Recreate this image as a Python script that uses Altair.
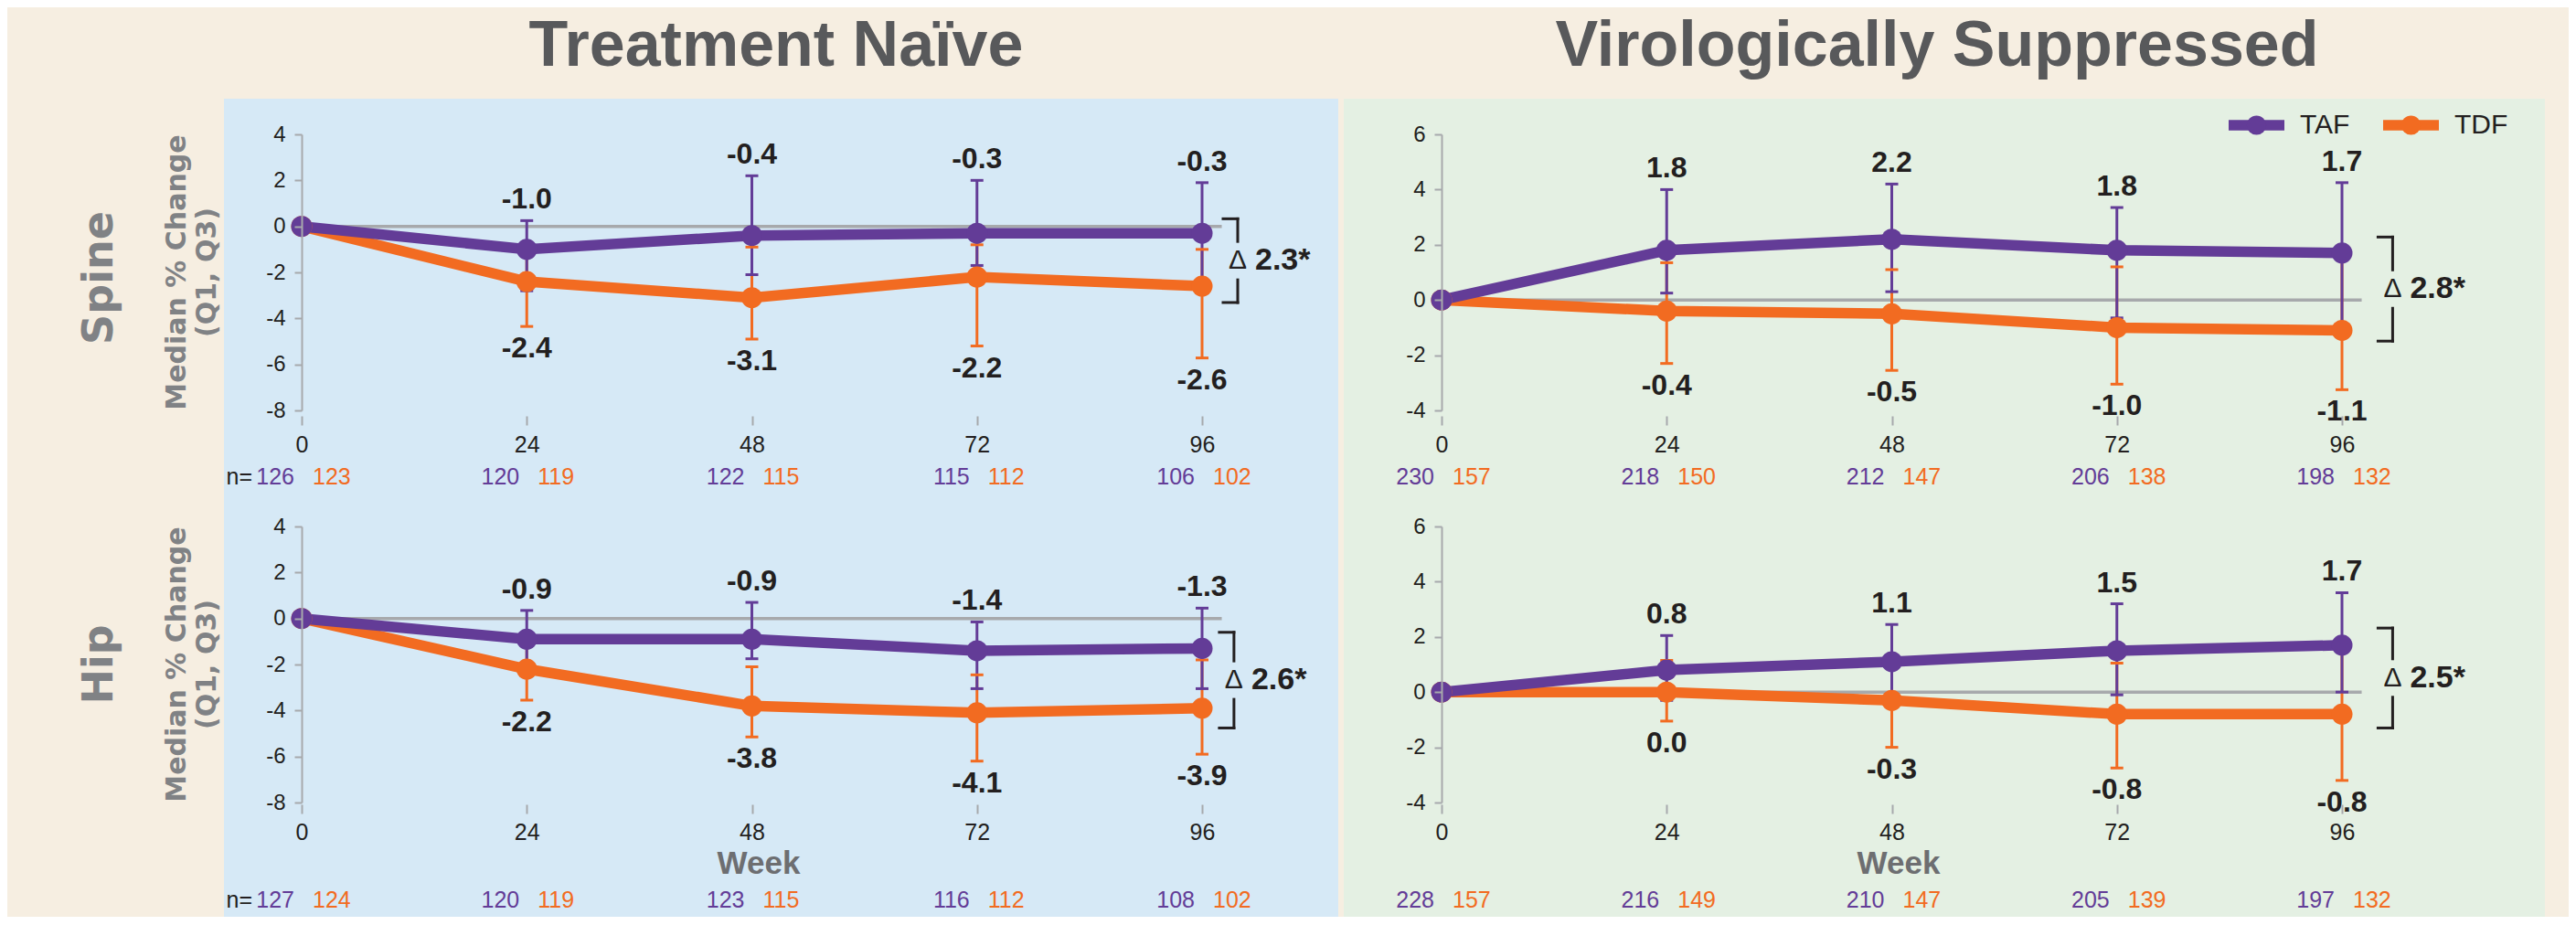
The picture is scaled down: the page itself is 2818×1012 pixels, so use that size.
import altair as alt
import pandas as pd

WEEKS = [0, 24, 48, 72, 96]

# ---- Spine, Treatment Naive ----
TN_SPINE_TAF_MED = [0.0, -1.0, -0.4, -0.3, -0.3]
TN_SPINE_TAF_Q1 = [0.0, -2.8, -2.1, -1.7, -2.7]
TN_SPINE_TAF_Q3 = [0.0, 0.25, 2.2, 2.0, 1.9]
TN_SPINE_TDF_MED = [0.0, -2.4, -3.1, -2.2, -2.6]
TN_SPINE_TDF_Q1 = [0.0, -4.35, -4.9, -5.2, -5.72]
TN_SPINE_TDF_Q3 = [0.0, -1.3, -0.9, -0.8, -1.0]
TN_SPINE_TAF_N = [126, 120, 122, 115, 106]
TN_SPINE_TDF_N = [123, 119, 115, 112, 102]
TN_SPINE_DELTA = "2.3*"
TN_SPINE_BRACKET = (99.8, 0.33, -3.31)

# ---- Spine, Virologically Suppressed ----
VS_SPINE_TAF_MED = [0.0, 1.8, 2.2, 1.8, 1.7]
VS_SPINE_TAF_Q1 = [0.0, 0.25, 0.3, -0.65, -1.2]
VS_SPINE_TAF_Q3 = [0.0, 4.0, 4.2, 3.35, 4.25]
VS_SPINE_TDF_MED = [0.0, -0.4, -0.5, -1.0, -1.1]
VS_SPINE_TDF_Q1 = [0.0, -2.3, -2.55, -3.05, -3.25]
VS_SPINE_TDF_Q3 = [0.0, 1.35, 1.1, 1.2, 1.6]
VS_SPINE_TAF_N = [230, 218, 212, 206, 198]
VS_SPINE_TDF_N = [157, 150, 147, 138, 132]
VS_SPINE_DELTA = "2.8*"
VS_SPINE_BRACKET = (101.4, 2.28, -1.49)

# ---- Hip, Treatment Naive ----
TN_HIP_TAF_MED = [0.0, -0.9, -0.9, -1.4, -1.3]
TN_HIP_TAF_Q1 = [0.0, -2.0, -1.75, -3.05, -3.05]
TN_HIP_TAF_Q3 = [0.0, 0.35, 0.7, -0.15, 0.45]
TN_HIP_TDF_MED = [0.0, -2.2, -3.8, -4.1, -3.9]
TN_HIP_TDF_Q1 = [0.0, -3.55, -5.15, -6.2, -5.9]
TN_HIP_TDF_Q3 = [0.0, -1.1, -2.1, -2.45, -1.8]
TN_HIP_TAF_N = [127, 120, 123, 116, 108]
TN_HIP_TDF_N = [124, 119, 115, 112, 102]
TN_HIP_DELTA = "2.6*"
TN_HIP_BRACKET = (99.4, -0.6, -4.76)

# ---- Hip, Virologically Suppressed ----
VS_HIP_TAF_MED = [0.0, 0.8, 1.1, 1.5, 1.7]
VS_HIP_TAF_Q1 = [0.0, -0.3, -0.1, -0.1, 0.0]
VS_HIP_TAF_Q3 = [0.0, 2.05, 2.45, 3.2, 3.6]
VS_HIP_TDF_MED = [0.0, 0.0, -0.3, -0.8, -0.8]
VS_HIP_TDF_Q1 = [0.0, -1.05, -2.0, -2.75, -3.2]
VS_HIP_TDF_Q3 = [0.0, 1.15, 1.0, 1.05, 1.6]
VS_HIP_TAF_N = [228, 216, 210, 205, 197]
VS_HIP_TDF_N = [157, 149, 147, 139, 132]
VS_HIP_DELTA = "2.5*"
VS_HIP_BRACKET = (101.4, 2.32, -1.30)

TN_YTICKS = [-8, -6, -4, -2, 0, 2, 4]
VS_YTICKS = [-4, -2, 0, 2, 4, 6]

ARMS = ["TAF", "TDF"]
Y_TITLE = ["Median % Change", "(Q1, Q3)"]

# ---- style ----
PURPLE = "#633C97"
ORANGE = "#F26B21"
BEIGE = "#F6EEE1"
BLUE = "#D6E9F6"
GREEN = "#E4F0E3"
GRAY = "#A7A9AC"
INK = "#231F20"
LABEL_GRAY = "#808285"
TITLE_GRAY = "#58595B"
WEEK_GRAY = "#6D6E71"
FONT = "Liberation Sans, Arial, Helvetica, sans-serif"
WIDE_FONT = "DejaVu Sans, Verdana, sans-serif"
W, H = 985, 302
LINE_W = 11.5
PT_SIZE = 530


def make_df(taf_med, taf_q1, taf_q3, tdf_med, tdf_q1, tdf_q3, taf_n, tdf_n):
    rows = []
    for arm, med, q1, q3, n, order in [
        ("TDF", tdf_med, tdf_q1, tdf_q3, tdf_n, 0),
        ("TAF", taf_med, taf_q1, taf_q3, taf_n, 1),
    ]:
        for w, m, a, b, k in zip(WEEKS, med, q1, q3, n):
            rows.append(dict(week=w, arm=arm, med=m, q1=a, q3=b, n=str(k),
                             order=order, label=f"{m:.1f}"))
    return pd.DataFrame(rows)


def panel(df, bracket, delta, ydom, yvals, fill, top, left,
          col_title=None, col_title_x=0, row_label=None, legend=False):
    ymin, ymax = ydom
    cs = alt.Scale(domain=ARMS, range=[PURPLE, ORANGE])
    xs = alt.Scale(domain=[0, 96], nice=False, zero=False)
    ys = alt.Scale(domain=[ymin, ymax], nice=False, zero=False)

    xk = dict(values=WEEKS, domain=False, grid=False, tickColor=GRAY, tickWidth=2,
              tickSize=10, offset=6 if top else 2, labelFont=FONT, labelFontSize=25,
              labelColor=INK, labelPadding=9 if top else 8, labelFlush=False,
              labelOverlap=False, zindex=1)
    if top:
        xk["title"] = None
    else:
        xk.update(title="Week", titleFont=FONT, titleFontSize=35, titleFontWeight="bold",
                  titleColor=WEEK_GRAY, titleY=47, titleX=W / 2 + 7,
                  titleBaseline="top", titleAlign="center")
    yk = dict(values=yvals, domainColor=GRAY, domainWidth=2, grid=False,
              tickColor=GRAY, tickWidth=2, tickSize=8, labelPadding=10,
              labelFont=FONT, labelFontSize=24, labelColor=INK,
              labelExpr="'' + datum.value", zindex=1, title=None)

    one = pd.DataFrame({"a": [0]})
    if left:
        ox0, ox1, ix0, ix1 = -322, 1137, -85, 1134
    else:
        ox0, ox1, ix0, ix1 = -110, 1233, -107, 1207
    if top:
        oy0, oy1, iy0, iy1 = -139, 413, -39, 413
        ny = 375
    else:
        oy0, oy1, iy0, iy1 = -16, 427, -16, 427
        ny = 409

    layers = []
    layers.append(alt.Chart(one).mark_rect(color=BEIGE).encode(
        x=alt.value(ox0), x2=alt.value(ox1), y=alt.value(oy0), y2=alt.value(oy1)))
    layers.append(alt.Chart(one).mark_rect(color=fill).encode(
        x=alt.value(ix0), x2=alt.value(ix1), y=alt.value(iy0), y2=alt.value(iy1)))

    # zero reference line
    zero = pd.DataFrame({"x": [0], "x2": [98.1], "y": [0]})
    layers.append(alt.Chart(zero).mark_rule(color=GRAY, strokeWidth=3.5).encode(
        x=alt.X("x:Q", scale=xs, axis=alt.Axis(**xk)), x2="x2:Q",
        y=alt.Y("y:Q", scale=ys, axis=alt.Axis(**yk))))

    bars = df[df.week > 0]
    col_nl = alt.Color("arm:N", scale=cs, legend=None)
    layers.append(alt.Chart(bars).mark_rule(strokeWidth=3).encode(
        x=alt.X("week:Q", scale=xs), y=alt.Y("q1:Q", scale=ys), y2="q3:Q", color=col_nl))
    for fld in ["q1", "q3"]:
        layers.append(alt.Chart(bars).mark_tick(orient="horizontal", size=14, thickness=3,
                                                opacity=1).encode(
            x=alt.X("week:Q", scale=xs), y=alt.Y(f"{fld}:Q", scale=ys), color=col_nl))

    layers.append(alt.Chart(df).mark_line(strokeWidth=LINE_W).encode(
        x=alt.X("week:Q", scale=xs), y=alt.Y("med:Q", scale=ys), color=col_nl,
        detail="arm:N"))
    layers.append(alt.Chart(df).mark_circle(size=PT_SIZE, opacity=1).encode(
        x=alt.X("week:Q", scale=xs), y=alt.Y("med:Q", scale=ys), color=col_nl,
        order=alt.Order("order:Q")))

    # value labels
    taf = df[(df.arm == "TAF") & (df.week > 0)]
    tdf = df[(df.arm == "TDF") & (df.week > 0)]
    layers.append(alt.Chart(taf).mark_text(font=FONT, fontSize=32, fontWeight="bold",
                                           color=INK, baseline="alphabetic", dy=-13).encode(
        x=alt.X("week:Q", scale=xs), y=alt.Y("q3:Q", scale=ys), text="label:N"))
    layers.append(alt.Chart(tdf).mark_text(font=FONT, fontSize=32, fontWeight="bold",
                                           color=INK, baseline="alphabetic", dy=34).encode(
        x=alt.X("week:Q", scale=xs), y=alt.Y("q1:Q", scale=ys), text="label:N"))

    # n at risk
    taf_all = df[df.arm == "TAF"]
    tdf_all = df[df.arm == "TDF"]
    layers.append(alt.Chart(taf_all).mark_text(font=FONT, fontSize=25, color=PURPLE,
                                               align="right", baseline="middle", dx=-8).encode(
        x=alt.X("week:Q", scale=xs), y=alt.value(ny), text="n:N"))
    layers.append(alt.Chart(tdf_all).mark_text(font=FONT, fontSize=25, color=ORANGE,
                                               align="left", baseline="middle", dx=12).encode(
        x=alt.X("week:Q", scale=xs), y=alt.value(ny), text="n:N"))
    if left:
        layers.append(alt.Chart(one).mark_text(font=FONT, fontSize=25, color=INK,
                                               align="right", baseline="middle",
                                               text="n=").encode(
            x=alt.value(-54), y=alt.value(ny)))

    # delta bracket
    bx, btop, bbot = bracket
    gap = 21 * (ymax - ymin) / H
    arm = 16 * 96 / W
    mid = (btop + bbot) / 2
    bdf = pd.DataFrame({"x": [bx], "xa": [bx - arm], "top": [btop], "bot": [bbot],
                        "mid": [mid], "up": [mid + gap], "lo": [mid - gap],
                        "delta": [delta]})
    bk = dict(color=INK, strokeWidth=3, strokeCap="square")
    layers.append(alt.Chart(bdf).mark_rule(**bk).encode(
        x=alt.X("x:Q", scale=xs), y=alt.Y("top:Q", scale=ys), y2="up:Q"))
    layers.append(alt.Chart(bdf).mark_rule(**bk).encode(
        x=alt.X("x:Q", scale=xs), y=alt.Y("lo:Q", scale=ys), y2="bot:Q"))
    layers.append(alt.Chart(bdf).mark_rule(**bk).encode(
        x=alt.X("xa:Q", scale=xs), x2="x:Q", y=alt.Y("top:Q", scale=ys)))
    layers.append(alt.Chart(bdf).mark_rule(**bk).encode(
        x=alt.X("xa:Q", scale=xs), x2="x:Q", y=alt.Y("bot:Q", scale=ys)))
    layers.append(alt.Chart(bdf).mark_text(font=FONT, fontSize=30, color=INK, text="Δ",
                                           align="center", baseline="middle").encode(
        x=alt.X("x:Q", scale=xs), y=alt.Y("mid:Q", scale=ys)))
    layers.append(alt.Chart(bdf).mark_text(font=FONT, fontSize=34, fontWeight="bold",
                                           color=INK, align="left", baseline="middle",
                                           dx=19).encode(
        x=alt.X("x:Q", scale=xs), y=alt.Y("mid:Q", scale=ys), text="delta:N"))

    # legend (top-right panel only)
    if legend:
        leg_pos = {"TAF": 861, "TDF": 1030}
        for name, colr in zip(ARMS, [PURPLE, ORANGE]):
            x0 = leg_pos[name]
            ld = pd.DataFrame({"arm": [name]})
            layers.append(alt.Chart(ld).mark_rule(color=colr, strokeWidth=LINE_W).encode(
                x=alt.value(x0), x2=alt.value(x0 + 61), y=alt.value(-10)))
            layers.append(alt.Chart(ld).mark_circle(color=colr, size=PT_SIZE - 80,
                                                    opacity=1).encode(
                x=alt.value(x0 + 30.5), y=alt.value(-10)))
            layers.append(alt.Chart(ld).mark_text(font=FONT, fontSize=30, color=INK,
                                                  align="left", baseline="middle").encode(
                x=alt.value(x0 + 78), y=alt.value(-10), text="arm:N"))

    if left:
        layers.append(alt.Chart(one).mark_text(font=WIDE_FONT, fontSize=30, fontWeight="bold",
                                               color=LABEL_GRAY, align="center",
                                               baseline="middle", angle=270,
                                               lineHeight=33, text=Y_TITLE).encode(
            x=alt.value(-136), y=alt.value(H / 2)))

    if col_title:
        layers.append(alt.Chart(one).mark_text(font=FONT, fontSize=70, fontWeight="bold",
                                               color=TITLE_GRAY, align="center",
                                               baseline="alphabetic", text=col_title).encode(
            x=alt.value(col_title_x), y=alt.value(-75)))
    if row_label:
        layers.append(alt.Chart(one).mark_text(font=WIDE_FONT, fontSize=46, fontWeight="bold",
                                               color=LABEL_GRAY, align="center",
                                               baseline="middle", angle=270,
                                               text=row_label).encode(
            x=alt.value(-221), y=alt.value(H / 2 + (6 if top else 0))))

    return alt.layer(*layers).properties(width=W, height=H)


tl = panel(make_df(TN_SPINE_TAF_MED, TN_SPINE_TAF_Q1, TN_SPINE_TAF_Q3,
                   TN_SPINE_TDF_MED, TN_SPINE_TDF_Q1, TN_SPINE_TDF_Q3,
                   TN_SPINE_TAF_N, TN_SPINE_TDF_N),
           TN_SPINE_BRACKET, TN_SPINE_DELTA, (-8, 4), TN_YTICKS, BLUE, True, True,
           col_title="Treatment Naïve", col_title_x=519, row_label="Spine")
bl = panel(make_df(TN_HIP_TAF_MED, TN_HIP_TAF_Q1, TN_HIP_TAF_Q3,
                   TN_HIP_TDF_MED, TN_HIP_TDF_Q1, TN_HIP_TDF_Q3,
                   TN_HIP_TAF_N, TN_HIP_TDF_N),
           TN_HIP_BRACKET, TN_HIP_DELTA, (-8, 4), TN_YTICKS, BLUE, False, True,
           row_label="Hip")
tr = panel(make_df(VS_SPINE_TAF_MED, VS_SPINE_TAF_Q1, VS_SPINE_TAF_Q3,
                   VS_SPINE_TDF_MED, VS_SPINE_TDF_Q1, VS_SPINE_TDF_Q3,
                   VS_SPINE_TAF_N, VS_SPINE_TDF_N),
           VS_SPINE_BRACKET, VS_SPINE_DELTA, (-4, 6), VS_YTICKS, GREEN, True, False,
           col_title="Virologically Suppressed", col_title_x=542, legend=True)
br = panel(make_df(VS_HIP_TAF_MED, VS_HIP_TAF_Q1, VS_HIP_TAF_Q3,
                   VS_HIP_TDF_MED, VS_HIP_TDF_Q1, VS_HIP_TDF_Q3,
                   VS_HIP_TAF_N, VS_HIP_TDF_N),
           VS_HIP_BRACKET, VS_HIP_DELTA, (-4, 6), VS_YTICKS, GREEN, False, False)

left_col = alt.vconcat(tl, bl, spacing=0).resolve_scale(color="independent")
right_col = alt.vconcat(tr, br, spacing=0).resolve_scale(color="independent")

chart = (
    alt.hconcat(left_col, right_col, spacing=0)
    .resolve_scale(color="independent")
    .properties(padding=0, background=BEIGE)
    .configure_view(strokeWidth=0)
)

chart.save("out.html", embed_options={"renderer": "svg", "actions": False})
